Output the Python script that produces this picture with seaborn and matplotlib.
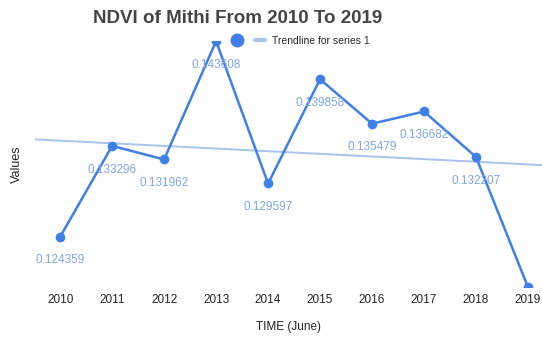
import numpy as np
import pandas as pd
import matplotlib
matplotlib.use('Agg')
import matplotlib.pyplot as plt
from matplotlib.lines import Line2D
import seaborn as sns

years = [2010, 2011, 2012, 2013, 2014, 2015, 2016, 2017, 2018, 2019]
ndvi = [0.124359, 0.133296, 0.131962, 0.143608, 0.129597,
        0.139858, 0.135479, 0.136682, 0.132207, 0.1194]
# 2019 point sits on the bottom edge in the original, no label shown
point_labels = ['0.124359', '0.133296', '0.131962', '0.143608', '0.129597',
                '0.139858', '0.135479', '0.136682', '0.132207', '']

df = pd.DataFrame({'year': years, 'ndvi': ndvi})

sns.set_style('white')
plt.rcParams['font.family'] = ['Liberation Sans', 'DejaVu Sans']

line_blue = '#3f7fe6'
label_blue = '#7ea6e4'
trend_blue = '#a8c3ee'

fig = plt.figure(figsize=(5.42, 3.37), dpi=100)
ax = fig.add_axes([0.065, 0.148, 0.935, 0.73])
ax.set_xlim(2009.52, 2019.27)
ax.set_ylim(0.1194, 0.143608)

sns.regplot(data=df, x='year', y='ndvi', scatter=False, ci=None, truncate=False,
            line_kws={'color': trend_blue, 'lw': 1.4}, ax=ax)
sns.lineplot(data=df, x='year', y='ndvi', color=line_blue, lw=1.8,
             marker='o', markersize=7, markeredgewidth=0, ax=ax)

for x, y, t in zip(years, ndvi, point_labels):
    if t:
        ax.annotate(t, (x, y), xytext=(0, -17), textcoords='offset points',
                    ha='center', va='center', fontsize=8.5, color=label_blue)

for s in ax.spines.values():
    s.set_visible(False)
ax.set_yticks([])
ax.set_xticks(years)
ax.tick_params(axis='x', length=0, pad=5, labelsize=8.5, labelcolor='#222222')
ax.set_xlabel('TIME (June)', fontsize=8.5, color='#222222', labelpad=11)
ax.set_ylabel('Values', fontsize=9, color='#222222', labelpad=9)

fig.text(0.438, 0.945, 'NDVI of Mithi From 2010 To 2019', ha='center', va='center',
         fontsize=13.5, fontweight='bold', color='#444444')

handles = [Line2D([], [], color=line_blue, marker='o', ls='none', markersize=9),
           Line2D([], [], color=trend_blue, lw=3)]
fig.legend(handles, ['', 'Trendline for series 1'], loc='center',
           bbox_to_anchor=(0.555, 0.878), ncol=2, frameon=False, fontsize=7.5,
           handlelength=1.0, columnspacing=0.6, handletextpad=0.6)

plt.savefig('out.png', dpi=100)
